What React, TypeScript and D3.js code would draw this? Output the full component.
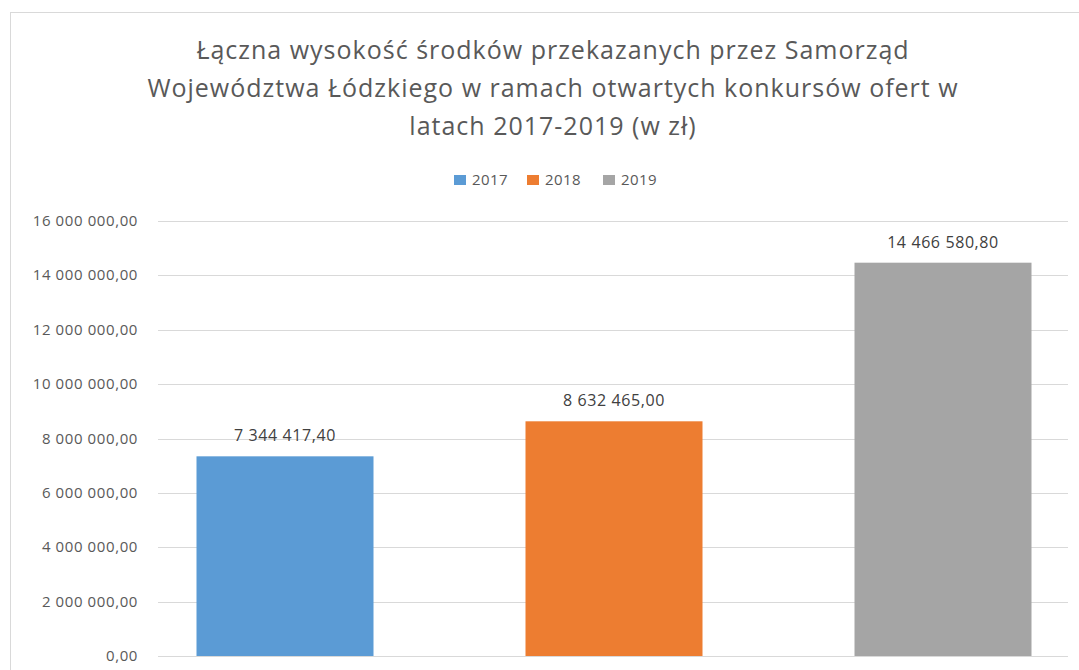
import React from "react";
import * as d3 from "d3";

const titleLines = [
  "Łączna wysokość środków przekazanych przez Samorząd",
  "Województwa Łódzkiego w ramach otwartych konkursów ofert w",
  "latach 2017-2019 (w zł)",
];
const years = ["2017", "2018", "2019"];
const values = [7344417.4, 8632465.0, 14466580.8];
const colors = ["#5B9BD5", "#ED7D31", "#A5A5A5"];
const yTicks = [0, 2000000, 4000000, 6000000, 8000000, 10000000, 12000000, 14000000, 16000000];

const W = 1079;
const H = 670;
const FONT = "'Open Sans', 'Noto Sans', sans-serif";

const locale = d3.formatLocale({ decimal: ",", thousands: " ", grouping: [3], currency: ["", ""] });
const fmt = locale.format(",.2f");

export default function App() {
  const y = d3.scaleLinear().domain([0, 16000000]).range([656, 221]);
  const x = d3
    .scaleBand()
    .domain(years)
    .range([120.5, 1107.5])
    .paddingInner(0.462)
    .paddingOuter(0.231);
  const gridX0 = 158;
  const gridX1 = 1068;

  const legendX = [454, 527, 603];

  return (
    <svg
      width={W}
      height={H}
      style={{ position: "absolute", left: 0, top: 0, background: "#fff" }}
      fontFamily={FONT}
    >
      <rect x={10.5} y={12.5} width={W + 20} height={H + 20} fill="#fff" stroke="#d9d9d9" strokeWidth={1} />
      {titleLines.map((t, i) => (
        <text key={i} x={553} y={59 + i * 38} textAnchor="middle" fontSize={25} letterSpacing={1} fill="#595959">
          {t}
        </text>
      ))}
      {years.map((yr, i) => (
        <g key={yr}>
          <rect x={legendX[i]} y={175} width={12} height={10} fill={colors[i]} />
          <text x={legendX[i] + 18} y={185} fontSize={15} letterSpacing={0.4} fill="#595959">
            {yr}
          </text>
        </g>
      ))}
      {yTicks.map((t) => (
        <g key={t}>
          <line x1={gridX0} x2={gridX1} y1={Math.round(y(t)) + 0.5} y2={Math.round(y(t)) + 0.5} stroke="#d9d9d9" strokeWidth={1} />
          <text x={138} y={y(t) + 5} textAnchor="end" fontSize={15} letterSpacing={0.6} fill="#595959">
            {fmt(t)}
          </text>
        </g>
      ))}
      {years.map((yr, i) => (
        <g key={yr}>
          <rect
            x={x(yr)!}
            y={y(values[i])}
            width={x.bandwidth()}
            height={y(0) - y(values[i])}
            fill={colors[i]}
          />
          <text
            x={x(yr)! + x.bandwidth() / 2}
            y={y(values[i]) - 15}
            textAnchor="middle"
            fontSize={16}
            letterSpacing={0.6}
            fill="#404040"
          >
            {fmt(values[i])}
          </text>
        </g>
      ))}
    </svg>
  );
}
